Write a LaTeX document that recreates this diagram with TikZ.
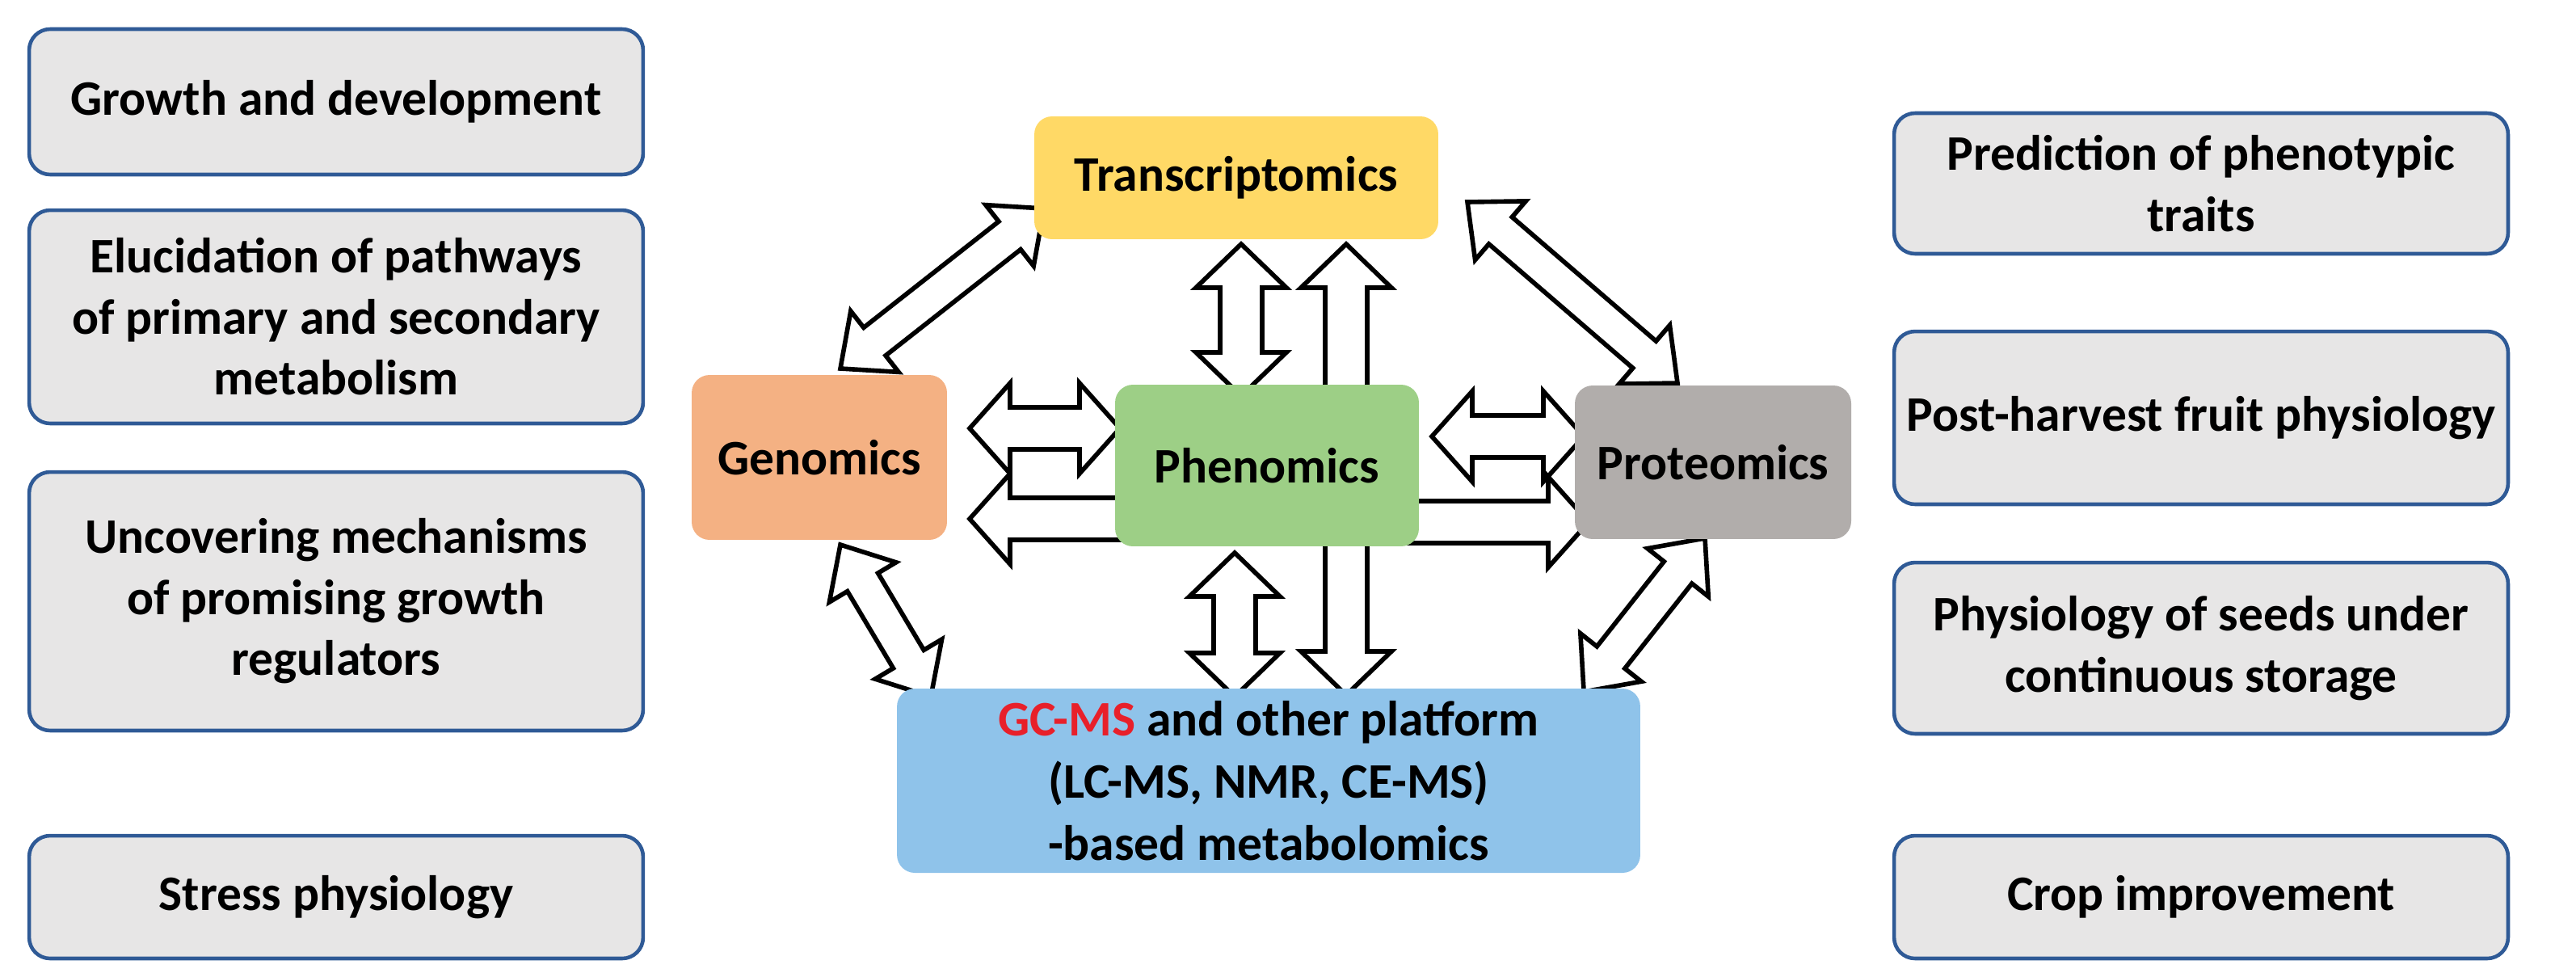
\documentclass[tikz,border=0pt]{standalone}
\usepackage{fontspec}
\setmainfont{Carlito}
\begin{document}
\begin{tikzpicture}[x=0.02cm,y=-0.02cm,
  sidebox/.style={draw=boxblue,line width=1.3pt,fill=boxgray,rounded corners=0.26cm,align=center,font=\bfseries\fontsize{17.5}{21.5}\selectfont,minimum width=7.6cm},
  core/.style={rounded corners=0.22cm,align=center,font=\bfseries\fontsize{17.5}{22}\selectfont},
  arr/.style={draw=black,line width=1.6pt,fill=white,line join=miter}]
\definecolor{boxblue}{HTML}{2F5A96}
\definecolor{boxgray}{HTML}{E7E6E6}
\definecolor{ctrans}{HTML}{FFD966}
\definecolor{cgen}{HTML}{F4B183}
\definecolor{cphen}{HTML}{9DCF86}
\definecolor{cprot}{HTML}{B1ADAB}
\definecolor{cmet}{HTML}{8FC3EA}
\definecolor{gcred}{HTML}{E8202A}
\useasboundingbox (0,0) rectangle (1594,599);
\newcommand\dblarr[7]{%
 \pgfmathsetmacro\ang{atan2(-(#4-#2),#3-#1)}%
 \pgfmathsetmacro\len{veclen(#3-#1,#4-#2)}%
 \begin{scope}[shift={(#1,#2)},rotate=\ang]
 \draw[arr] (0,0)--(#7,#5)--(#7,#6)--(\len-#7,#6)--(\len-#7,#5)--(\len,0)--(\len-#7,-#5)--(\len-#7,-#6)--(#7,-#6)--(#7,-#5)--cycle;
 \end{scope}}
\newcommand\sglarr[7]{%
 \pgfmathsetmacro\ang{atan2(-(#4-#2),#3-#1)}%
 \pgfmathsetmacro\len{veclen(#3-#1,#4-#2)}%
 \begin{scope}[shift={(#1,#2)},rotate=\ang]
 \draw[arr] (0,#6)--(\len-#7,#6)--(\len-#7,#5)--(\len,0)--(\len-#7,-#5)--(\len-#7,-#6)--(0,-#6)--cycle;
 \end{scope}}
% arrows
\dblarr{520}{228}{646}{129}{24}{11}{27}
\dblarr{908}{125}{1038}{237}{24}{11}{27}
\dblarr{520}{337}{576}{431}{24}{11}{27}
\dblarr{1055}{333}{980}{428}{24}{11}{27}
\dblarr{768}{151}{768}{245}{28}{13}{27}
\sglarr{833}{260}{833}{151}{28}{13}{27}
\dblarr{764}{342}{764}{431}{28}{13}{27}
\sglarr{833}{320}{833}{430}{28}{13}{27}
\dblarr{600}{265}{693}{265}{28}{13}{25}
\sglarr{720}{321}{600}{321}{28}{13}{25}
\dblarr{886}{270}{980}{270}{28}{13}{25}
\sglarr{860}{323}{983}{323}{28}{13}{25}
% core nodes
\node[core,fill=ctrans,minimum width=5.0cm,minimum height=1.52cm] (trans) at (765,110) {Transcriptomics};
\node[core,fill=cgen,minimum width=3.16cm,minimum height=2.04cm] (gen) at (507,283) {Genomics};
\node[core,fill=cphen,minimum width=3.76cm,minimum height=2.0cm] (phen) at (784,288) {Phenomics};
\node[core,fill=cprot,minimum width=3.42cm,minimum height=1.9cm] (prot) at (1060,286) {Proteomics};
\node[core,fill=cmet,minimum width=9.2cm,minimum height=2.28cm] (met) at (785,483) {{\color{gcred}GC-MS} and other platform\\(LC-MS, NMR, CE-MS)\\-based metabolomics};
% side boxes
\node[sidebox,minimum height=1.8cm] (l1) at (208,63) {Growth and development};
\node[sidebox,minimum height=2.64cm] (l2) at (208,196) {Elucidation of pathways\\of primary and secondary\\metabolism};
\node[sidebox,minimum height=3.2cm] (l3) at (208,372) {Uncovering mechanisms\\of promising growth\\regulators};
\node[sidebox,minimum height=1.52cm] (l4) at (208,555) {Stress physiology};
\node[sidebox,minimum height=1.74cm] (r1) at (1362,113.5) {Prediction of phenotypic\\traits};
\node[sidebox,minimum height=2.14cm] (r2) at (1362,258.5) {Post-harvest fruit physiology};
\node[sidebox,minimum height=2.12cm] (r3) at (1362,401) {Physiology of seeds under\\continuous storage};
\node[sidebox,minimum height=1.52cm] (r4) at (1362,555) {Crop improvement};
\end{tikzpicture}
\end{document}
